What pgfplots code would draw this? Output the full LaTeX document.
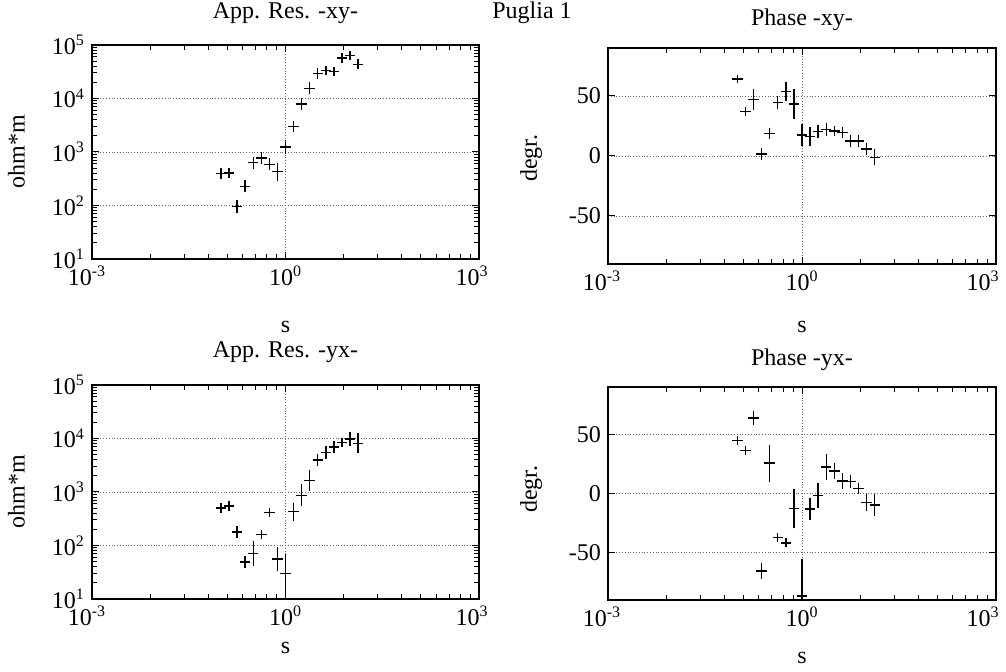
\documentclass[border=0pt]{standalone}
\usepackage{fontspec}
\setmainfont{Liberation Serif}
\usepackage{pgfplots}
\pgfplotsset{compat=1.18}
\usepackage{pgfplotstable}

% apparent resistivity: period, rho, half error bar in decades
\pgfplotstableread{
s      rho    d
0.1000 398    0.06
0.1334 407    0.06
0.1778 95     0.09
0.2371 229    0.075
0.3162 631    0.075
0.4217 776    0.075
0.5623 589    0.075
0.7499 427    0.135
1.0000 1230   0.09
1.3340 3020   0.06
1.7780 7940   0.075
2.3710 15500  0.075
3.1620 29500  0.06
4.2170 33100  0.05
5.6230 31600  0.05
7.4990 57500  0.05
10.000 63100  0.05
13.340 43600  0.06
}\rhoxy

\pgfplotstableread{
s      rho    d
0.1000 501    0.05
0.1334 550    0.05
0.1778 178    0.075
0.2371 49     0.075
0.3162 71     0.19
0.4217 162    0.05
0.5623 417    0.05
0.7499 56     0.18
1.0000 30     0.32
1.3340 427    0.135
1.7780 871    0.17
2.3710 1660   0.155
3.1620 3980   0.075
4.2170 5500   0.09
5.6230 6920   0.075
7.4990 8510   0.05
10.000 9770   0.09
13.340 8130   0.15
}\rhoyx

% phase: period, degrees, half error bar
\pgfplotstableread{
s      ph     e
0.1000 64.2   2
0.1334 37.0   2
0.1778 47.2   7
0.2371 1.7    3
0.3162 18.9   3
0.4217 44.4   3.6
0.5623 53.6   6.5
0.7499 43.3   11
1.0000 17.5   7.6
1.3340 16.1   6
1.7780 20.3   4
2.3710 22.2   3.5
3.1620 20.8   2.5
4.2170 19.4   3
5.6230 12.5   3
7.4990 12.5   3
10.000 5.8    3
13.340 -1.1   5
}\phxy

\pgfplotstableread{
s      ph     e
0.1000 44.7   2
0.1334 36.1   2
0.1778 63.9   4
0.2371 -65.6  5
0.3162 25.6   14
0.4217 -37.2  2
0.5623 -41.7  2
0.7499 -12.8  15
1.0000 -86.7  30
1.3340 -13.0  7.6
1.7780 -1.7   9
2.3710 22.5   9
3.1620 18.9   5
4.2170 10.6   5
5.6230 10.0   4
7.4990 4.2    3
10.000 -7.5   5.5
13.340 -9.7   7.6
}\phyx

\newcommand{\fs}{\fontsize{12}{13.5}\selectfont}

\pgfplotsset{
  every axis/.append style={
    scale only axis,
    xmajorgrids, ymajorgrids,
    major grid style={densely dotted, black!60, line width=0.4pt},
    tick align=inside, tick pos=both,
    major tick length=3.5pt, minor tick length=2.5pt,
    axis line style={line width=0.7pt},
    tick style={black, line width=0.5pt},
    tick label style={font=\fs},
    label style={font=\fs},
    title style={font=\fs},
    every axis title shift=0pt,
  },
}

\begin{document}
\begin{tikzpicture}[font=\fs]
\useasboundingbox (0pt,0pt) rectangle (503pt,336pt);

\node at (266pt,329.5pt) {Puglia 1};

\begin{axis}[at={(46pt,313.5pt)}, anchor=north west,
  width=193.5pt, height=107pt,
  xmode=log, xmin=1e-3, xmax=1e3,
  xtick={0.001,1,1000},
  xticklabels={10\textsuperscript{-3}\hspace*{5pt},10\textsuperscript{0},10\textsuperscript{3}\hspace*{7pt}},
  minor xtick={0.008,0.027,0.064,0.125,0.216,0.343,0.512,0.729,8,27,64,125,216,343,512,729},
  ymode=log, ymin=10, ymax=1e5,
  ytick={10,100,1000,10000,100000},
  yticklabels={10\textsuperscript{1},10\textsuperscript{2},10\textsuperscript{3},10\textsuperscript{4},10\textsuperscript{5}},
  minor ytick={20,30,40,50,60,70,80,90,200,300,400,500,600,700,800,900,2000,3000,4000,5000,6000,7000,8000,9000,20000,30000,40000,50000,60000,70000,80000,90000},
  title={App. Res. -xy-},
  title style={at={(axis description cs:0.5,1)}, anchor=center, yshift=16pt},
  xlabel={s}, ylabel={ohm*m},
  xlabel style={at={(axis description cs:0.5,-0.318)}, anchor=center},
  ylabel style={at={(axis description cs:-0.195,0.5)}, anchor=center}]
\addplot[black, line width=0.7pt, only marks, mark=-, mark size=2.6pt,
  error bars/y dir=both, error bars/y explicit,
  error bars/error bar style={line width=0.7pt},
  error bars/error mark options={mark size=1pt, line width=0.7pt}]
  table[x=s, y=rho,
  y error plus expr={\thisrow{rho}*(10^(\thisrow{d})-1)},
  y error minus expr={\thisrow{rho}*(1-10^(-\thisrow{d}))}] {\rhoxy};
\end{axis}

\begin{axis}[at={(304pt,312pt)}, anchor=north west,
  width=194pt, height=108pt,
  xmode=log, xmin=1e-3, xmax=1e3,
  xtick={0.001,1,1000},
  xticklabels={10\textsuperscript{-3}\hspace*{6pt},10\textsuperscript{0},10\textsuperscript{3}\hspace*{13pt}},
  minor xtick={0.008,0.027,0.064,0.125,0.216,0.343,0.512,0.729,8,27,64,125,216,343,512,729},
  ymin=-90, ymax=90,
  ytick={-50,0,50}, yticklabels={-50,0,50},
  title={Phase -xy-},
  title style={at={(axis description cs:0.5,1)}, anchor=center, yshift=14pt},
  xlabel={s}, ylabel={degr.},
  xlabel style={at={(axis description cs:0.5,-0.29)}, anchor=center},
  ylabel style={at={(axis description cs:-0.198,0.49)}, anchor=center}]
\addplot[black, line width=0.7pt, only marks, mark=-, mark size=2.6pt,
  error bars/y dir=both, error bars/y explicit,
  error bars/error bar style={line width=0.7pt},
  error bars/error mark options={mark size=1pt, line width=0.7pt}]
  table[x=s, y=ph, y error=e] {\phxy};
\end{axis}

\begin{axis}[at={(46pt,143.5pt)}, anchor=north west,
  width=193.5pt, height=107pt,
  xmode=log, xmin=1e-3, xmax=1e3,
  xtick={0.001,1,1000},
  xticklabels={10\textsuperscript{-3}\hspace*{5pt},10\textsuperscript{0},10\textsuperscript{3}\hspace*{7pt}},
  minor xtick={0.008,0.027,0.064,0.125,0.216,0.343,0.512,0.729,8,27,64,125,216,343,512,729},
  ymode=log, ymin=10, ymax=1e5,
  ytick={10,100,1000,10000,100000},
  yticklabels={10\textsuperscript{1},10\textsuperscript{2},10\textsuperscript{3},10\textsuperscript{4},10\textsuperscript{5}},
  minor ytick={20,30,40,50,60,70,80,90,200,300,400,500,600,700,800,900,2000,3000,4000,5000,6000,7000,8000,9000,20000,30000,40000,50000,60000,70000,80000,90000},
  title={App. Res. -yx-},
  title style={at={(axis description cs:0.5,1)}, anchor=center, yshift=16.5pt},
  xlabel={s}, ylabel={ohm*m},
  xlabel style={at={(axis description cs:0.5,-0.23)}, anchor=center},
  ylabel style={at={(axis description cs:-0.195,0.5)}, anchor=center}]
\addplot[black, line width=0.7pt, only marks, mark=-, mark size=2.6pt,
  error bars/y dir=both, error bars/y explicit,
  error bars/error bar style={line width=0.7pt},
  error bars/error mark options={mark size=1pt, line width=0.7pt}]
  table[x=s, y=rho,
  y error plus expr={\thisrow{rho}*(10^(\thisrow{d})-1)},
  y error minus expr={\thisrow{rho}*(1-10^(-\thisrow{d}))}] {\rhoyx};
\end{axis}

\begin{axis}[at={(304pt,142.5pt)}, anchor=north west,
  width=194pt, height=106.5pt,
  xmode=log, xmin=1e-3, xmax=1e3,
  xtick={0.001,1,1000},
  xticklabels={10\textsuperscript{-3}\hspace*{6pt},10\textsuperscript{0},10\textsuperscript{3}\hspace*{13pt}},
  minor xtick={0.008,0.027,0.064,0.125,0.216,0.343,0.512,0.729,8,27,64,125,216,343,512,729},
  ymin=-90, ymax=90,
  ytick={-50,0,50}, yticklabels={-50,0,50},
  title={Phase -yx-},
  title style={at={(axis description cs:0.5,1)}, anchor=center, yshift=13.5pt},
  xlabel={s}, ylabel={degr.},
  xlabel style={at={(axis description cs:0.5,-0.27)}, anchor=center},
  ylabel style={at={(axis description cs:-0.198,0.52)}, anchor=center}]
\addplot[black, line width=0.7pt, only marks, mark=-, mark size=2.6pt,
  error bars/y dir=both, error bars/y explicit,
  error bars/error bar style={line width=0.7pt},
  error bars/error mark options={mark size=1pt, line width=0.7pt}]
  table[x=s, y=ph, y error=e] {\phyx};
\end{axis}
\end{tikzpicture}
\end{document}
